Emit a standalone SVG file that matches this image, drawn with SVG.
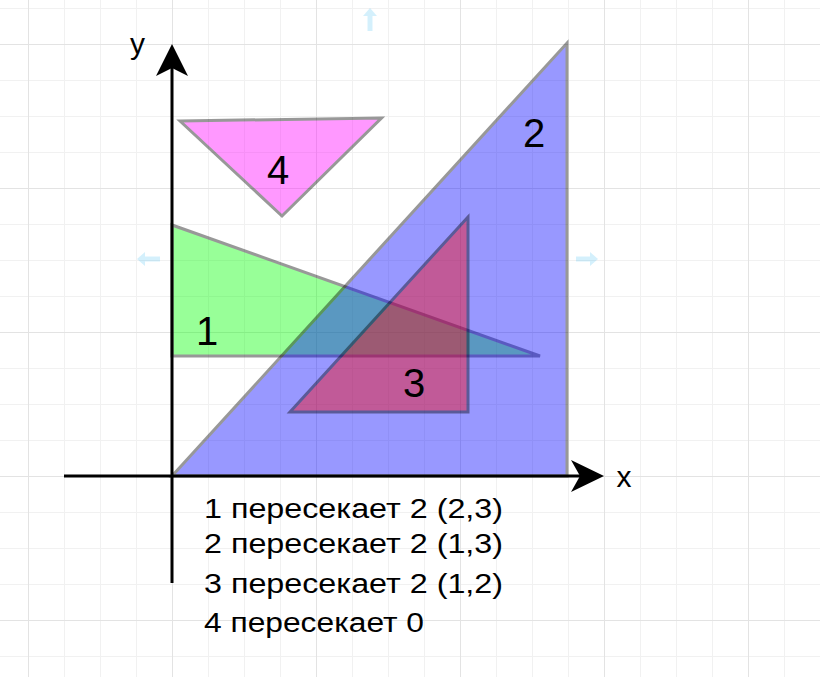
<svg xmlns="http://www.w3.org/2000/svg" width="820" height="677" viewBox="0 0 820 677">
<style>
.tri{stroke:#000;stroke-width:3;opacity:0.4}
.lbl{font-family:"Liberation Sans",Arial,sans-serif;font-size:40px;fill:#000;text-anchor:middle}
.ax{font-family:"Liberation Sans",Arial,sans-serif;font-size:30px;fill:#000;text-anchor:middle}
.note{font-family:"Liberation Sans",Arial,sans-serif;font-size:27px;fill:#000}
.axis{stroke:#000;stroke-width:3;fill:none}
.head{fill:#000;stroke:none}
.hover{fill:#29b6f2;opacity:0.2}
</style>
<defs>
<pattern id="grid" patternUnits="userSpaceOnUse" x="28" y="44" width="144" height="144">
<path d="M36.5 0V144M72.5 0V144M108.5 0V144M0 36.5H144M0 72.5H144M0 108.5H144" stroke="#f1f1f1" stroke-width="1" fill="none"/>
<path d="M0.5 0V144M0 0.5H144" stroke="#e3e3e3" stroke-width="1" fill="none"/>
</pattern>
</defs>
<rect width="820" height="677" fill="#fff"/>
<rect width="820" height="677" fill="url(#grid)"/>
<g id="hover-handles">
<path class="hover" d="M370 8 L377 16 L372.5 16 L372.5 31 L367.5 31 L367.5 16 L363 16 Z"/>
<path class="hover" d="M137 259 L145 252 L145 256.5 L160 256.5 L160 261.5 L145 261.5 L145 266 Z"/>
<path class="hover" d="M598 259 L590 252 L590 256.5 L576 256.5 L576 261.5 L590 261.5 L590 266 Z"/>
</g>
<g id="tri1">
<polygon class="tri" points="172,225 172,356 540,356" fill="#00ff00"/>
</g>
<g id="tri2">
<polygon class="tri" points="172,476 567,43 567,476" fill="#0000ff"/>
</g>
<g id="tri3">
<polygon class="tri" points="468,217 290,412 468,412" fill="#ff0000"/>
</g>
<g id="tri4">
<polygon class="tri" points="180,121 381.5,118 282,216" fill="#ff00ff"/>
</g>
<g id="labels">
<text class="lbl" x="207" y="345">1</text>
<text class="lbl" x="534" y="147">2</text>
<text class="lbl" x="414" y="397">3</text>
<text class="lbl" x="278" y="184">4</text>
</g>
<g id="connectors">
<line class="axis" x1="172" y1="583" x2="172" y2="66"/>
<path class="head" d="M172 44 L188 76 L172 68 L156 76 Z"/>
<line class="axis" x1="64" y1="476" x2="582" y2="476"/>
<path class="head" d="M604 476 L571 460 L580 476 L571 492 Z"/>
</g>
<g id="axis-labels">
<text class="ax" x="137.5" y="54">y</text>
<text class="ax" x="624" y="487">x</text>
</g>
<g id="legend">
<text class="note" x="204" y="518" textLength="299" lengthAdjust="spacingAndGlyphs">1 пересекает 2 (2,3)</text>
<text class="note" x="204" y="553" textLength="299" lengthAdjust="spacingAndGlyphs">2 пересекает 2 (1,3)</text>
<text class="note" x="204" y="593" textLength="299" lengthAdjust="spacingAndGlyphs">3 пересекает 2 (1,2)</text>
<text class="note" x="204" y="632" textLength="220" lengthAdjust="spacingAndGlyphs">4 пересекает 0</text>
</g>
</svg>
